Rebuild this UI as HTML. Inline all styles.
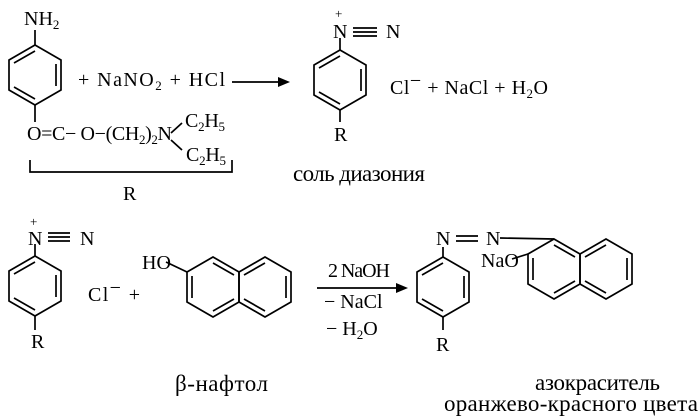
<!DOCTYPE html>
<html><head><meta charset="utf-8"><style>
html,body{margin:0;padding:0;background:#fff}
svg{display:block}
text{font-family:"Liberation Serif",serif;font-size:20px;fill:#000}
.s{font-size:13px}
.b{font-size:23px}
</style></head><body>
<svg width="700" height="416" viewBox="0 0 700 416" xmlns="http://www.w3.org/2000/svg">
<defs>
<g id="hex" fill="none" stroke="#000" stroke-width="1.7">
<polygon points="0,-30 26,-15 26,15 0,30 -26,15 -26,-15"/>
</g>
<g id="dbl" stroke="#000" stroke-width="1.7">
<line x1="-21" y1="-12" x2="0" y2="-24"/>
<line x1="21" y1="-11" x2="21" y2="11"/>
<line x1="0" y1="24" x2="-21" y2="12"/>
</g>
<g id="dblB" stroke="#000" stroke-width="1.7">
<line x1="0" y1="-24" x2="21" y2="-12"/>
<line x1="21" y1="12" x2="0" y2="24"/>
<line x1="-21" y1="-11" x2="-21" y2="11"/>
</g>
</defs>
<g stroke="#000" stroke-width="1.7" fill="none">
<use href="#hex" x="35" y="75"/><use href="#dbl" x="35" y="75"/>
<line x1="35" y1="45" x2="35" y2="30"/>
<line x1="35" y1="105" x2="35" y2="122"/>
<line x1="232" y1="82" x2="282" y2="82"/>
<polyline points="30,160 30,172 232,172 232,160"/>
<use href="#hex" x="340" y="80"/><use href="#dbl" x="340" y="80"/>
<line x1="340" y1="50" x2="340" y2="38"/>
<line x1="340" y1="110" x2="340" y2="122"/>
<line x1="353" y1="28" x2="377" y2="28"/><line x1="353" y1="32" x2="377" y2="32"/><line x1="353" y1="36" x2="377" y2="36"/>
<line x1="171" y1="133" x2="182" y2="123"/>
<line x1="171" y1="140" x2="182" y2="150"/>
<use href="#hex" x="35" y="286"/><use href="#dbl" x="35" y="286"/>
<line x1="35" y1="256" x2="35" y2="244"/>
<line x1="35" y1="316" x2="35" y2="330"/>
<line x1="48" y1="233" x2="70" y2="233"/><line x1="48" y1="237" x2="70" y2="237"/><line x1="48" y1="241" x2="70" y2="241"/>
<use href="#hex" x="213" y="287"/><use href="#dblB" x="213" y="287"/>
<use href="#hex" x="265" y="287"/><use href="#dbl" x="265" y="287"/>
<line x1="166" y1="262" x2="187" y2="272"/>
<line x1="317" y1="288" x2="398" y2="288"/>
<use href="#hex" x="443" y="287"/><use href="#dbl" x="443" y="287"/>
<line x1="443" y1="257" x2="443" y2="247"/>
<line x1="443" y1="317" x2="443" y2="330"/>
<line x1="456" y1="236" x2="478" y2="236"/><line x1="456" y1="241" x2="478" y2="241"/>
<line x1="500" y1="238" x2="554" y2="239"/>
<use href="#hex" x="554" y="269"/><use href="#dblB" x="554" y="269"/>
<use href="#hex" x="606" y="269"/><use href="#dbl" x="606" y="269"/>
<line x1="512" y1="259" x2="528" y2="254"/>
</g>
<polygon points="290,82 278,77 278,87" fill="#000"/>
<polygon points="408,288 396,283 396,293" fill="#000"/>
<text x="24" y="25">NH<tspan class="s" dy="4">2</tspan></text>
<text x="78" y="86" textLength="147">+ NaNO<tspan class="s" dy="4">2</tspan><tspan dy="-4"> + HCl</tspan></text>
<text x="27" y="140" textLength="145">O=C− O−(CH<tspan class="s" dy="4">2</tspan><tspan dy="-4">)</tspan><tspan class="s" dy="4">2</tspan><tspan dy="-4">N</tspan></text>
<text x="185" y="127" textLength="40">C<tspan class="s" dy="4">2</tspan><tspan dy="-4">H</tspan><tspan class="s" dy="4">5</tspan></text>
<text x="186" y="161" textLength="40">C<tspan class="s" dy="4">2</tspan><tspan dy="-4">H</tspan><tspan class="s" dy="4">5</tspan></text>
<text x="123" y="200">R</text>
<text x="335" y="18" class="s">+</text>
<text x="333" y="38">N</text>
<text x="386" y="38">N</text>
<text x="334" y="141">R</text>
<text x="390" y="94" textLength="158">Cl<tspan dy="-7">−</tspan><tspan dy="7"> + NaCl + H</tspan><tspan class="s" dy="4">2</tspan><tspan dy="-4">O</tspan></text>
<text x="293" y="181" class="b" textLength="132">соль диазония</text>
<text x="30" y="226" class="s">+</text>
<text x="28" y="245">N</text>
<text x="80" y="245">N</text>
<text x="31" y="348">R</text>
<text x="88" y="301" textLength="52">Cl<tspan dy="-7">−</tspan><tspan dy="7">  +</tspan></text>
<text x="142" y="269">HO</text>
<text x="328" y="277" textLength="62">2 NaOH</text>
<text x="324" y="308">− NaCl</text>
<text x="326" y="335">− H<tspan class="s" dy="4">2</tspan><tspan dy="-4">O</tspan></text>
<text x="175" y="391" class="b" textLength="93">β-нафтол</text>
<text x="436" y="245">N</text>
<text x="486" y="245">N</text>
<text x="481" y="267">NaO</text>
<text x="436" y="351">R</text>
<text x="535" y="390" class="b" textLength="125">азокраситель</text>
<text x="444" y="411" class="b" textLength="254">оранжево-красного цвета</text>
</svg>
</body></html>
